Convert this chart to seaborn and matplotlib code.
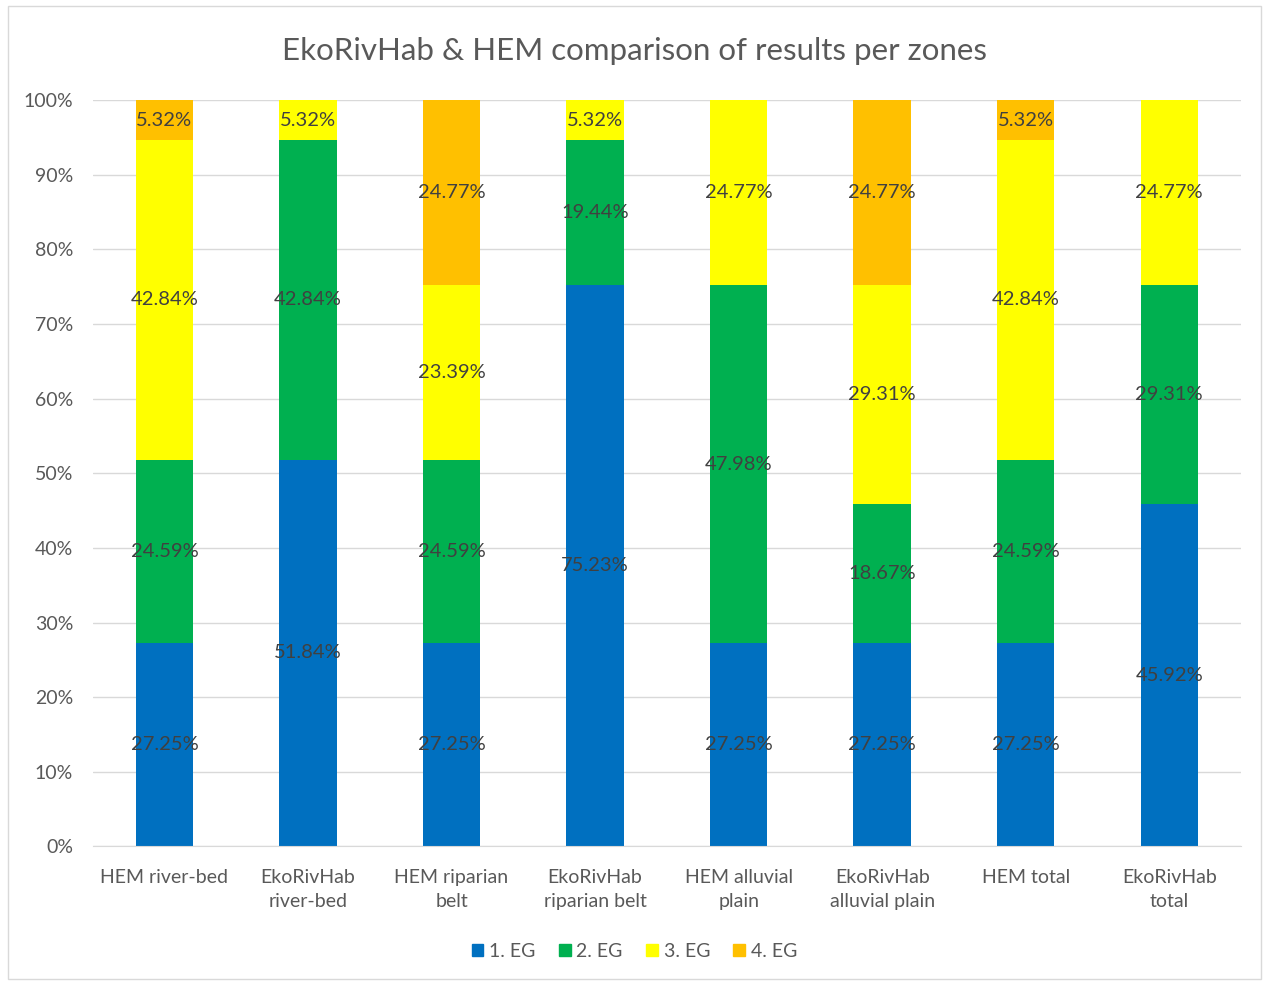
import numpy as np
import pandas as pd
import matplotlib
matplotlib.use("Agg")
import matplotlib.pyplot as plt
import matplotlib.ticker as mticker
import seaborn as sns
from matplotlib.patches import Rectangle

ZONES = ["HEM river-bed", "EkoRivHab\nriver-bed", "HEM riparian\nbelt",
         "EkoRivHab\nriparian belt", "HEM alluvial\nplain",
         "EkoRivHab\nalluvial plain", "HEM total", "EkoRivHab\ntotal"]
SERIES = ["1. EG", "2. EG", "3. EG", "4. EG"]
EG1 = [27.25, 51.84, 27.25, 75.23, 27.25, 27.25, 27.25, 45.92]
EG2 = [24.59, 42.84, 24.59, 19.44, 47.98, 18.67, 24.59, 29.31]
EG3 = [42.84, 5.32, 23.39, 5.32, 24.77, 29.31, 42.84, 24.77]
EG4 = [5.32, 0.0, 24.77, 0.0, 0.0, 24.77, 5.32, 0.0]
COLORS = ["#0070C0", "#00B050", "#FFFF00", "#FFC000"]

TEXT = "#595959"

sns.set_style("white")
plt.rcParams["font.family"] = ["Lato", "DejaVu Sans"]

fig = plt.figure(figsize=(12.69, 9.83), dpi=100)
ax = fig.add_axes([0.073, 0.139, 0.905, 0.759])

bottom = np.zeros(len(ZONES))
for name, vals, col in zip(SERIES, [EG1, EG2, EG3, EG4], COLORS):
    df = pd.DataFrame({"zone": ZONES, "value": vals})
    sns.barplot(data=df, x="zone", y="value", bottom=bottom.copy(), color=col,
                width=0.4, saturation=1, ax=ax, zorder=2, linewidth=0)
    for i, v in enumerate(vals):
        if v > 0:
            ax.text(i, bottom[i] + v / 2, f"{v:.2f}%", ha="center", va="center",
                    fontsize=14.5, color="#404040", zorder=3)
    bottom += np.array(vals)

ax.set_ylim(0, 100)
ax.set_xlim(-0.5, len(ZONES) - 0.5)
ax.yaxis.set_major_locator(mticker.MultipleLocator(10))
ax.yaxis.set_major_formatter(mticker.FuncFormatter(lambda v, _: f"{int(v)}%"))
ax.grid(axis="y", color="#d9d9d9", linewidth=1, zorder=0)
ax.set_axisbelow(True)
for s in ["top", "right", "left"]:
    ax.spines[s].set_visible(False)
ax.spines["bottom"].set_color("#d9d9d9")
ax.tick_params(axis="both", length=0, colors=TEXT, labelsize=14)
ax.tick_params(axis="x", pad=16)
ax.tick_params(axis="y", pad=14)
for lbl in ax.get_xticklabels():
    lbl.set_linespacing(1.55)
ax.set_xlabel("")
ax.set_ylabel("")
if ax.get_legend() is not None:
    ax.get_legend().remove()

fig.text(0.5, 0.948, "EkoRivHab & HEM comparison of results per zones",
         ha="center", va="center", fontsize=22.5, color=TEXT)

handles = [Rectangle((0, 0), 1, 1, color=c) for c in COLORS]
leg = fig.legend(handles, SERIES, loc="center", bbox_to_anchor=(0.5, 0.032),
                 ncol=4, frameon=False, fontsize=14, handlelength=0.6,
                 handleheight=0.6, handletextpad=0.3, columnspacing=1.2)
for t in leg.get_texts():
    t.set_color(TEXT)

fig.patches.append(Rectangle((0.006, 0.004), 0.988, 0.99, transform=fig.transFigure,
                             fill=False, edgecolor="#d9d9d9", linewidth=1))

fig.savefig("out.png", dpi=100)
